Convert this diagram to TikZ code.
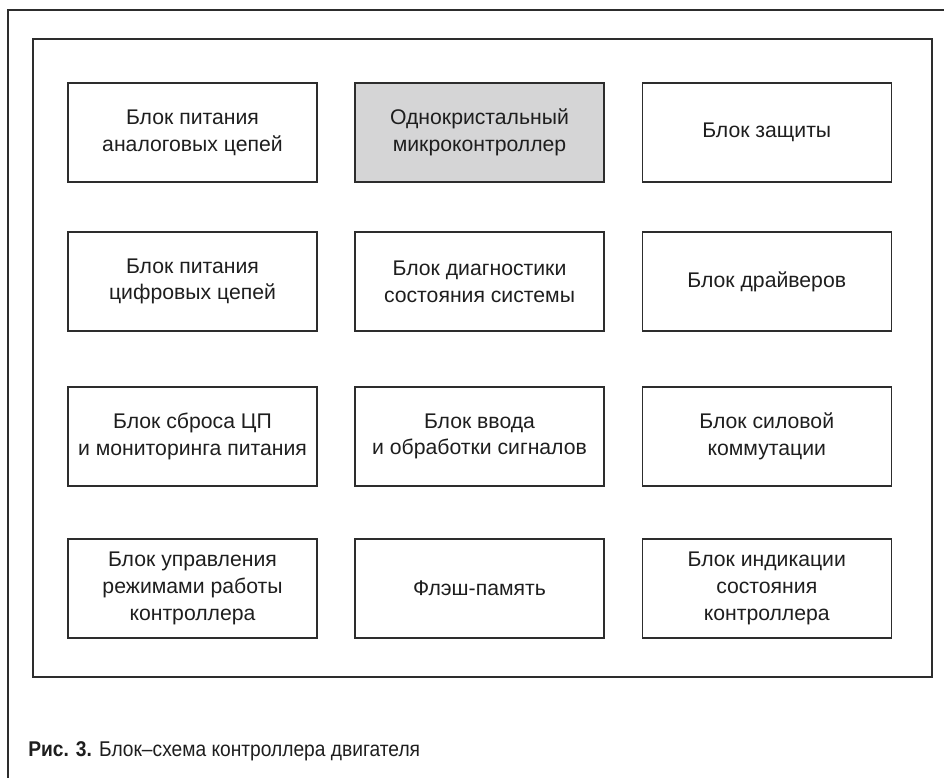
\documentclass[tikz,border=0pt]{standalone}
\usepackage{fontspec}
\setmainfont{Liberation Sans}
\newfontfamily\capfont[FakeStretch=0.9]{Liberation Sans}
\definecolor{lineclr}{RGB}{45,45,45}
\definecolor{txtclr}{RGB}{30,30,30}
\definecolor{mcufill}{RGB}{213,213,214}
\begin{document}
\begin{tikzpicture}[x=0.75pt,y=-0.75pt,
  blk/.style={draw=lineclr,line width=1.1pt,minimum width=186.75pt,minimum height=74.25pt,
    inner sep=0pt,align=center,text=txtclr,font=\fontsize{15.9pt}{20pt}\selectfont},
  frm/.style={draw=lineclr,line width=1.1pt}]
\useasboundingbox (0,0) rectangle (944,778);
% outer frame (only top and left edges visible)
\draw[frm] (944,10) -- (8,10) -- (8,778);
% inner frame
\draw[frm] (33,39) rectangle (932,677);
% row 1
\node[blk] (a1) at (192.5,132.5) {Блок питания\\аналоговых цепей};
\node[blk,fill=mcufill] (a2) at (479.5,132.5) {Однокристальный\\микроконтроллер};
\node[blk] (a3) at (766.75,132.5) {Блок защиты};
% row 2
\node[blk] (b1) at (192.5,281.5) {Блок питания\\цифровых цепей};
\node[blk] (b2) at (479.5,281.5) {Блок диагностики\\состояния системы};
\node[blk] (b3) at (766.75,281.5) {Блок драйверов};
% row 3
\node[blk] (c1) at (192.5,436.5) {Блок сброса ЦП\\и мониторинга питания};
\node[blk] (c2) at (479.5,436.5) {Блок ввода\\и обработки сигналов};
\node[blk] (c3) at (766.75,436.5) {Блок силовой\\коммутации};
% row 4
\node[blk] (d1) at (192.5,588.5) {Блок управления\\режимами работы\\контроллера};
\node[blk] (d2) at (479.5,588.5) {Флэш-память};
\node[blk] (d3) at (766.75,588.5) {Блок индикации\\состояния\\контроллера};
% caption
\node[anchor=base west,inner sep=0pt,text=txtclr,font=\capfont\fontsize{16pt}{18pt}\selectfont] (cap) at (28,756.7)
  {\textbf{Рис. 3.} Блок–схема контроллера двигателя};
\end{tikzpicture}
\end{document}
